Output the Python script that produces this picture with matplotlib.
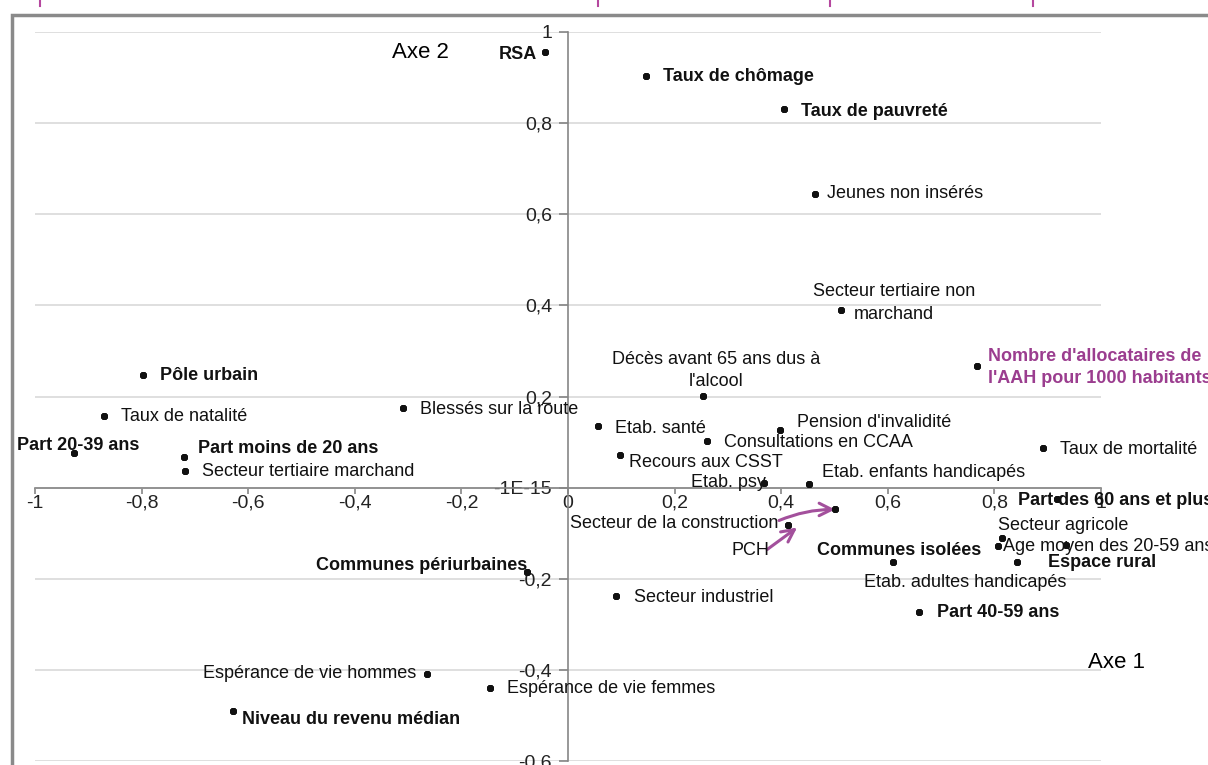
import matplotlib
matplotlib.use("Agg")
import matplotlib.pyplot as plt
from matplotlib import font_manager
from matplotlib.lines import Line2D
from matplotlib.patches import Rectangle
from matplotlib.transforms import offset_copy

installed = {f.name for f in font_manager.fontManager.ttflist}
if 'Liberation Sans Narrow' in installed:
    base_font, fs, fs_tick, fs_axe = 'Liberation Sans Narrow', 15, 16, 19
else:
    base_font, fs, fs_tick, fs_axe = 'Liberation Sans', 13, 14, 16
plt.rcParams['font.family'] = [base_font, 'DejaVu Sans']

# variables on the first two factorial axes
labels = ["RSA", "Taux de chômage", "Taux de pauvreté", "Jeunes non insérés",
          "Secteur tertiaire non\nmarchand", "Nombre d'allocataires de\nl'AAH pour 1000 habitants",
          "Décès avant 65 ans dus à\nl'alcool", "Pôle urbain", "Taux de natalité",
          "Blessés sur la route", "Part 20-39 ans", "Part moins de 20 ans",
          "Secteur tertiaire marchand", "Etab. santé", "Pension d'invalidité",
          "Consultations en CCAA", "Recours aux CSST", "Taux de mortalité", "Etab. psy",
          "Etab. enfants handicapés", "Part des 60 ans et plus", "Secteur de la construction",
          "PCH", "Secteur agricole", "Age moyen des 20-59 ans", "Espace rural",
          "Communes isolées", "Etab. adultes handicapés", "Communes périurbaines",
          "Secteur industriel", "Part 40-59 ans", "Espérance de vie hommes",
          "Espérance de vie femmes", "Niveau du revenu médian"]
axe1 = [-0.043, 0.146, 0.405, 0.463, 0.512, 0.767, 0.253, -0.797, -0.871, -0.310,
        -0.927, -0.720, -0.719, 0.056, 0.398, 0.261, 0.098, 0.891, 0.368, 0.452,
        0.917, 0.501, 0.413, 0.814, 0.807, 0.934, 0.842, 0.610, -0.077, 0.090,
        0.659, -0.265, -0.146, -0.629]
axe2 = [0.956, 0.904, 0.831, 0.645, 0.390, 0.268, 0.202, 0.248, 0.158, 0.175,
        0.077, 0.068, 0.037, 0.136, 0.127, 0.103, 0.072, 0.088, 0.011, 0.009,
        -0.026, -0.048, -0.081, -0.110, -0.129, -0.125, -0.164, -0.164, -0.186, -0.237,
        -0.272, -0.408, -0.439, -0.491]
bold = {"RSA", "Taux de chômage", "Taux de pauvreté", "Pôle urbain", "Part 20-39 ans",
        "Part moins de 20 ans", "Part des 60 ans et plus", "Espace rural", "Communes isolées",
        "Communes périurbaines", "Part 40-59 ans", "Niveau du revenu médian",
        "Nombre d'allocataires de\nl'AAH pour 1000 habitants"}
purple_labels = {"Nombre d'allocataires de\nl'AAH pour 1000 habitants"}

xticks = [-1, -0.8, -0.6, -0.4, -0.2, 0, 0.2, 0.4, 0.6, 0.8, 1]
xticklabels = ["-1", "-0,8", "-0,6", "-0,4", "-0,2", "0", "0,2", "0,4", "0,6", "0,8", "1"]
yticks = [-0.6, -0.4, -0.2, 0, 0.2, 0.4, 0.6, 0.8, 1]
yticklabels = ["-0,6", "-0,4", "-0,2", "-1E-15", "0,2", "0,4", "0,6", "0,8", "1"]

# label placement: offset in pixels from the marker, horizontal alignment
label_pos = [(-8, -2, 'right'), (17, -1, 'left'), (17, -2, 'left'), (12, 0, 'left'),
             (53, 7, 'center'), (11, -2, 'left'), (13, 25, 'center'), (17, -1, 'left'),
             (17, -1, 'left'), (17, -2, 'left'), (4, 7, 'center'), (14, 8, 'left'),
             (17, -1, 'left'), (17, -3, 'left'), (17, 7, 'left'), (17, -2, 'left'),
             (9, -8, 'left'), (17, -2, 'left'), (2, 0, 'right'), (13, 11, 'left'),
             (-39, -1, 'left'), (-57, -14, 'right'), (-38, -26, 'center'), (-4, 12, 'left'),
             (5, 0, 'left'), (-18, -18, 'left'), (-36, 12, 'right'), (72, -20, 'center'),
             (0, 7, 'right'), (18, -2, 'left'), (18, -1, 'left'), (-11, 0, 'right'),
             (17, -1, 'left'), (9, -8, 'left')]

W, H = 1208, 765
fig = plt.figure(figsize=(W / 100, H / 100), dpi=100)
ax = fig.add_axes([35 / W, 1 - 761 / H, (1101 - 35) / W, (761 - 32) / H])
ax.set_xlim(-1, 1)
ax.set_ylim(-0.6, 1)

for s in ['top', 'right']:
    ax.spines[s].set_visible(False)
ax.spines['left'].set_position(('data', 0))
ax.spines['bottom'].set_position(('data', 0))
for s in ['left', 'bottom']:
    ax.spines[s].set_color('#868686')
    ax.spines[s].set_linewidth(1.2)
ax.set_xticks(xticks)
ax.set_xticklabels(xticklabels)
ax.set_yticks(yticks)
ax.set_yticklabels(yticklabels)
ax.tick_params(axis='both', colors='#868686', labelcolor='#222222', labelsize=fs_tick, width=1.2)
ax.tick_params(axis='x', length=4, pad=1)
ax.tick_params(axis='y', length=6.5, pad=5)
ax.yaxis.grid(True, color='#d9d9d9', lw=1.2)
ax.set_axisbelow(True)

ax.plot(axe1, axe2, ls='none', marker=(8, 2, 0), ms=5, mew=1.7, color='#111111', zorder=4)

for lab, x, y, (dx, dy, ha) in zip(labels, axe1, axe2, label_pos):
    col = '#9b3d8f' if lab in purple_labels else '#111111'
    ax.annotate(lab, (x, y), xytext=(dx, dy), textcoords='offset pixels', ha=ha, va='center',
                multialignment='center' if ha == 'center' else 'left',
                fontsize=fs, fontweight='bold' if lab in bold else 'normal', color=col,
                linespacing=1.4, annotation_clip=False, zorder=5)

# arrows for the two crowded labels
arrow_col = '#a3509c'
i = labels.index("Secteur de la construction")
ax.annotate('', xy=(axe1[i], axe2[i]), xytext=(-56, -11), textcoords='offset pixels',
            arrowprops=dict(arrowstyle='->,head_length=0.9,head_width=0.45', color=arrow_col, lw=2.2,
                            connectionstyle='arc3,rad=-0.1', shrinkA=0, shrinkB=0))
i = labels.index("PCH")
head = offset_copy(ax.transData, fig=fig, x=9, y=-3, units='dots')
ax.annotate('', xy=(axe1[i], axe2[i]), xycoords=head, xytext=(-30, -22), textcoords='offset pixels',
            arrowprops=dict(arrowstyle='->,head_length=0.9,head_width=0.45', color=arrow_col, lw=2.2,
                            shrinkA=0, shrinkB=0))

fig.text(420 / W, 1 - 52 / H, "Axe 2", fontsize=fs_axe, ha='center', va='center')
fig.text(1117 / W, 1 - 662 / H, "Axe 1", fontsize=fs_axe, ha='center', va='center')

# outer chart frame and the cut-off title above it
fig.add_artist(Rectangle((12 / W, -0.1), 1.2, 1 - 15 / H + 0.1, transform=fig.transFigure,
                         fill=False, ec='#8a8a8a', lw=2.5))
for px in [40, 598, 830, 1033]:
    fig.add_artist(Line2D([px / W, px / W], [1, 1 - 6 / H], color='#b5479f', lw=1.5))

fig.savefig("out.png", dpi=100)
